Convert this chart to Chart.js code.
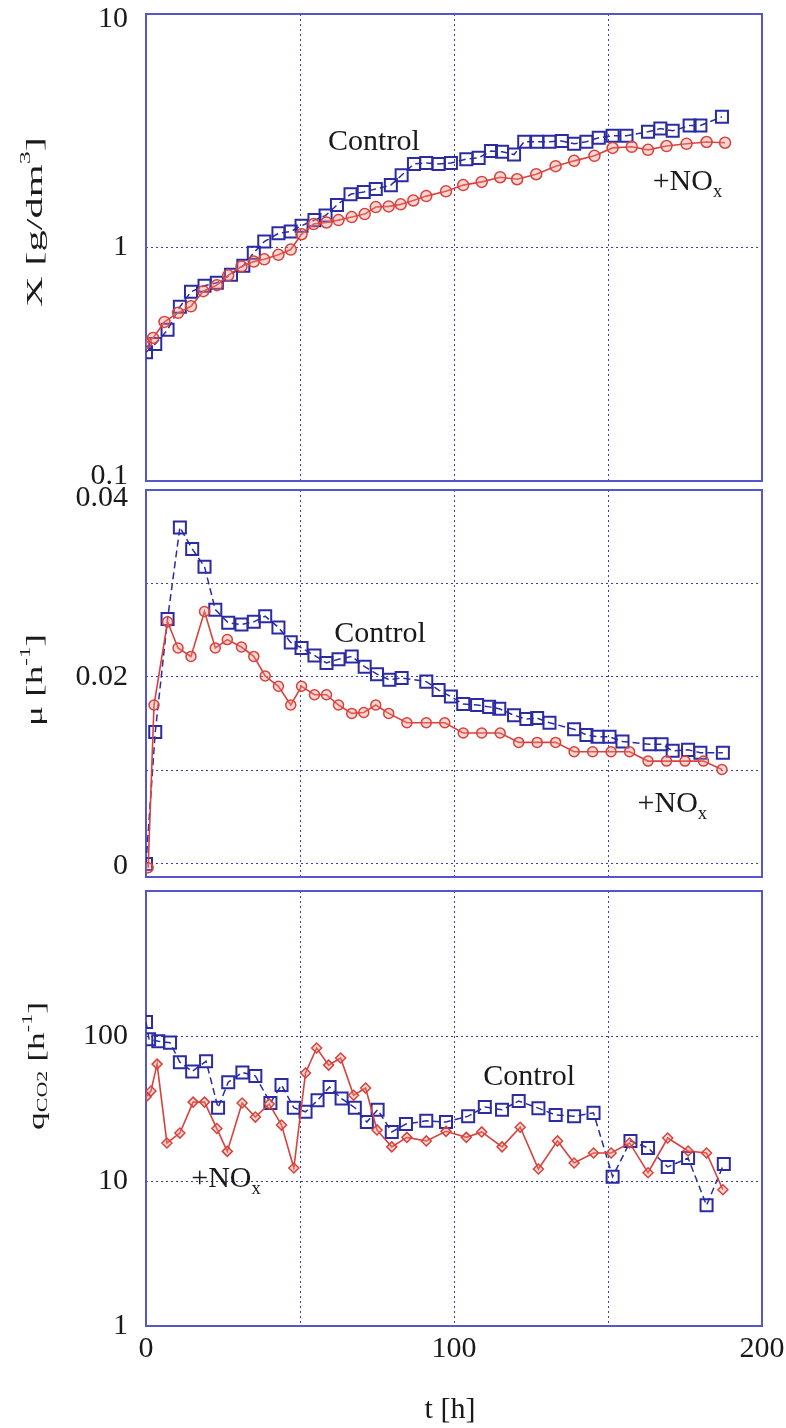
<!DOCTYPE html>
<html>
<head>
<meta charset="utf-8">
<script src="https://cdn.jsdelivr.net/npm/chart.js@4/dist/chart.umd.min.js"></script>
<style>
  body { margin: 0; background: #fff; width: 786px; height: 1428px; position: relative; overflow: hidden; }
  canvas { position: absolute; left: 0; }
</style>
</head>
<body>
<canvas id="c1" width="786" height="490" style="top:0px"></canvas>
<canvas id="c2" width="786" height="414" style="top:470px"></canvas>
<canvas id="c3" width="786" height="558" style="top:870px"></canvas>
<script>
// ---- data ----
// biomass X [g/dm3]
var tX_ctrl = [0, 3, 7, 11, 14.6, 19, 23, 27.6, 31.6, 35, 38.4, 43, 47, 50.5, 54.7, 58.3, 62, 66.4, 70.7, 74.6, 79.5, 83, 87, 91, 95, 99, 104, 108, 112, 115.6, 119.5, 122.8, 127, 131, 135, 139, 143, 147, 151.5, 156, 163, 167, 171, 176.5, 180, 187];
var X_ctrl = [0.356, 0.386, 0.444, 0.557, 0.646, 0.686, 0.706, 0.765, 0.836, 0.95, 1.06, 1.15, 1.17, 1.24, 1.31, 1.37, 1.52, 1.69, 1.73, 1.78, 1.85, 2.04, 2.28, 2.30, 2.28, 2.30, 2.39, 2.42, 2.59, 2.57, 2.50, 2.84, 2.84, 2.84, 2.86, 2.78, 2.84, 2.95, 3.01, 3.01, 3.13, 3.23, 3.16, 3.33, 3.33, 3.63];
var tX_nox = [0, 2.3, 6, 10.4, 14.6, 18.6, 23, 26.7, 31, 35, 38.4, 43, 47, 50.5, 54.4, 58.6, 62.5, 66.8, 71, 74.6, 78.8, 82.7, 86.8, 91, 97.4, 103, 109, 115, 120.5, 126.7, 133, 139, 145.6, 151.5, 157.7, 163, 169, 175.5, 182, 188];
var X_nox = [0.39, 0.41, 0.48, 0.525, 0.56, 0.65, 0.69, 0.76, 0.83, 0.87, 0.89, 0.93, 0.98, 1.14, 1.26, 1.28, 1.31, 1.35, 1.39, 1.49, 1.50, 1.53, 1.59, 1.66, 1.74, 1.85, 1.91, 2.0, 1.96, 2.06, 2.23, 2.35, 2.47, 2.67, 2.70, 2.62, 2.72, 2.78, 2.83, 2.81];

// specific growth rate mu [1/h]
var tMu_ctrl = [0, 3, 7, 11, 15, 19, 22.5, 26.7, 31, 35, 38.7, 43, 47, 50.5, 54.7, 58.6, 62.5, 66.8, 71, 75, 79, 83, 91, 95, 99, 103, 107.5, 111.4, 114.7, 119.5, 123.5, 127, 131, 139, 143, 146.6, 150.5, 154.7, 163.5, 167.4, 171, 176, 180, 187.3];
var mu_ctrl = [0, 0.0141, 0.0262, 0.036, 0.0337, 0.0318, 0.0272, 0.0258, 0.0256, 0.0259, 0.0265, 0.0253, 0.0237, 0.0231, 0.0223, 0.0215, 0.0219, 0.0222, 0.0211, 0.0203, 0.0197, 0.0199, 0.0195, 0.0186, 0.0179, 0.0171, 0.017, 0.0168, 0.0166, 0.0159, 0.0155, 0.0156, 0.0151, 0.0144, 0.0138, 0.0136, 0.0136, 0.0131, 0.0128, 0.0128, 0.0121, 0.0122, 0.0119, 0.0119];
var tMu_nox = [0.7, 2.6, 7, 10.4, 14.6, 19, 22.5, 26.4, 31, 35, 38.7, 43, 47, 50.5, 54.7, 58.6, 62.5, 66.8, 70.7, 74.6, 78.8, 84.7, 91, 97, 103, 109, 115, 121, 127, 133, 139, 145, 151, 157, 163, 169, 175, 181, 187];
var mu_nox = [-0.0004, 0.017, 0.0259, 0.0231, 0.0222, 0.027, 0.0231, 0.024, 0.0232, 0.0222, 0.0201, 0.019, 0.017, 0.019, 0.0181, 0.0181, 0.017, 0.0161, 0.0162, 0.017, 0.0161, 0.0151, 0.0151, 0.0151, 0.014, 0.014, 0.014, 0.013, 0.013, 0.013, 0.012, 0.012, 0.012, 0.012, 0.011, 0.011, 0.011, 0.011, 0.0101];

// specific CO2 rate qCO2 [1/h]
var tQ_ctrl = [0, 1, 4, 7.8, 11, 15, 19.5, 23.4, 26.7, 31.3, 35.5, 40.4, 44, 48, 51.8, 55.7, 59.6, 63.5, 67.8, 71.7, 75.2, 79.8, 84.4, 91, 97.4, 104.6, 110, 115.6, 121, 127.4, 133, 139, 145.3, 151.5, 157.3, 163, 169.4, 176, 182, 187.6];
var q_ctrl = [125, 95, 92, 90, 66, 57, 67, 32, 48, 56, 53, 34.5, 46, 32, 30, 36, 44.5, 37, 32, 25.5, 31, 21.8, 24.7, 26, 25.5, 28, 32.4, 31, 35.6, 31.8, 28.5, 28, 29.5, 10.7, 18.9, 16.9, 12.5, 14.4, 6.8, 13.1];
var tQ_nox = [0, 1.6, 3.6, 6.8, 11, 15.3, 19, 23, 26.4, 31.2, 35.5, 40, 44, 48, 51.8, 55.4, 59.3, 63.2, 67.4, 71.3, 75, 79.8, 84.7, 91, 97.4, 104, 109, 115.6, 121.5, 127.4, 133.6, 139, 145.3, 151, 157, 163, 169.4, 176, 182, 187.3];
var q_nox = [38, 41.7, 64, 18.3, 21.4, 35, 35, 23, 16, 34.5, 27.6, 34, 24.3, 12.3, 55.6, 82.6, 63, 70.5, 39, 43.8, 22.5, 17.2, 20, 18.9, 22, 20, 21.8, 17.2, 23.5, 12.1, 18.9, 13.3, 15.6, 15.6, 18.3, 11.4, 19.8, 16.1, 15.6, 8.7];

// axes
var xTicks = [0, 50, 100, 150, 200];
var xLabels = ['0', '', '100', '', '200'];
var yTicksX = [0.1, 1, 10];
var yLabelsX = ['0.1', '1', '10'];
var yTicksMu = [0, 0.01, 0.02, 0.03, 0.04];
var yLabelsMu = ['0', '', '0.02', '', '0.04'];
var yTicksQ = [1, 10, 100, 1000];
var yLabelsQ = ['1', '10', '100', ''];

var FONT = "'Liberation Serif', 'Times New Roman', serif";
var BLUE = '#2b2ba3';
var RED = '#d8423c';
var FRAME = '#5656cc';
var GRID = '#3d3db0';

function pts(xs, ys) {
  return xs.map(function (x, i) { return { x: x, y: ys[i] }; });
}

function drawParts(ctx, parts, x, y, size, rot, len, align, base) {
  ctx.save();
  ctx.translate(x, y);
  ctx.rotate(rot * Math.PI / 180);
  var fs = function (p) { return p[1] ? size * 0.62 : size; };
  var w = 0;
  parts.forEach(function (p) { ctx.font = fs(p) + 'px ' + FONT; w += ctx.measureText(p[0]).width; });
  ctx.scale(len ? len / w : 1, 1);
  var cx = align === 'left' ? 0 : -w / 2;
  ctx.textBaseline = base || 'alphabetic';
  ctx.fillStyle = '#1a1a1a';
  parts.forEach(function (p) {
    ctx.font = fs(p) + 'px ' + FONT;
    var dy = p[1] === 'sup' ? -size * 0.42 : (p[1] === 'sub' ? size * 0.24 : 0);
    ctx.fillText(p[0], cx, dy);
    cx += ctx.measureText(p[0]).width;
  });
  ctx.restore();
}

var framePlugin = {
  id: 'frame',
  beforeDatasetsDraw: function (chart) {
    var a = chart.chartArea, ctx = chart.ctx;
    ctx.save();
    ctx.strokeStyle = FRAME;
    ctx.lineWidth = 2;
    ctx.strokeRect(a.left, a.top, a.right - a.left, a.bottom - a.top);
    ctx.restore();
  },
  afterDraw: function (chart) {
    var o = chart.options.plugins.frame || {};
    var ctx = chart.ctx;
    (o.titles || []).forEach(function (it) {
      drawParts(ctx, it.parts, it.x, it.y, it.size, it.rot, it.len, 'center', 'middle');
    });
    (o.notes || []).forEach(function (n) {
      var px = chart.scales.x.getPixelForValue(n.t);
      var py = chart.scales.y.getPixelForValue(n.v);
      drawParts(ctx, n.parts, px, py, 30, 0, 0, n.align, 'alphabetic');
    });
  }
};

function makeChart(id, cfg) {
  var ctrl = {
    label: 'Control',
    data: cfg.ctrl,
    borderColor: BLUE,
    borderWidth: 1.5,
    borderDash: [7, 4],
    pointStyle: 'rect',
    pointRadius: 8.5,
    pointBorderWidth: 2,
    pointBorderColor: BLUE,
    pointBackgroundColor: 'rgba(255,255,255,0)'
  };
  var nox = {
    label: '+NOx',
    data: cfg.nox,
    borderColor: RED,
    borderWidth: 1.6,
    pointStyle: cfg.noxStyle,
    pointRadius: cfg.noxRadius,
    pointBorderWidth: 1.5,
    pointBorderColor: RED,
    pointBackgroundColor: 'rgba(240,140,130,0.35)'
  };
  // end labels sit a few px inside the frame, as in the original figure
  var shift = function (v) {
    var i = cfg.yTicks.indexOf(v);
    return (cfg.labelShift && i >= 0) ? cfg.labelShift[i] : 0;
  };
  var yScale = {
    type: cfg.yType,
    min: cfg.yMin,
    max: cfg.yMax,
    afterFit: function (s) { s.width = 146; s.paddingTop = 0; s.paddingBottom = 0; },
    afterBuildTicks: function (s) { s.ticks = cfg.yTicks.map(function (v) { return { value: v }; }); },
    grid: {
      drawTicks: false,
      lineWidth: 1,
      color: function (c) {
        var v = c.tick && c.tick.value;
        return (v === cfg.yMin || v === cfg.yMax) ? 'rgba(0,0,0,0)' : GRID;
      }
    },
    border: { display: false, dash: [2, 3] },
    ticks: {
      padding: 18,
      color: '#1a1a1a',
      font: function (c) {
        var s = c.tick ? shift(c.tick.value) : 0;
        return { family: FONT, size: 30, lineHeight: s ? (2 * Math.abs(s)) + 'px' : 1.2 };
      },
      callback: function (v) {
        var i = cfg.yTicks.indexOf(v);
        if (i < 0) return '';
        var s = shift(v), lab = cfg.yLabels[i];
        if (!s) return lab;
        return s > 0 ? ['', lab] : [lab, ''];
      }
    }
  };
  var xScale = {
    type: 'linear',
    min: 0,
    max: 200,
    afterFit: function (s) { s.height = cfg.xHeight; s.paddingLeft = 0; s.paddingRight = 0; },
    afterBuildTicks: function (s) { s.ticks = xTicks.map(function (v) { return { value: v }; }); },
    grid: {
      drawTicks: false,
      lineWidth: 1,
      color: function (c) {
        var v = c.tick && c.tick.value;
        return (v === 0 || v === 200) ? 'rgba(0,0,0,0)' : GRID;
      }
    },
    border: { display: false, dash: [2, 3] },
    ticks: {
      display: cfg.showX,
      padding: 5,
      maxRotation: 0,
      autoSkip: false,
      color: '#1a1a1a',
      font: { family: FONT, size: 30 },
      callback: function (v) {
        var i = xTicks.indexOf(v);
        return i >= 0 ? xLabels[i] : '';
      }
    }
  };
  return new Chart(document.getElementById(id), {
    type: 'line',
    data: { datasets: [nox, ctrl] },
    options: {
      responsive: false,
      animation: false,
      layout: { autoPadding: false, padding: { left: 0, right: 24, top: cfg.padTop, bottom: 0 } },
      scales: { x: xScale, y: yScale },
      elements: { line: { tension: 0 } },
      plugins: {
        legend: { display: false },
        tooltip: { enabled: false },
        frame: { titles: cfg.titles, notes: cfg.notes }
      }
    },
    plugins: [framePlugin]
  });
}

makeChart('c1', {
  ctrl: pts(tX_ctrl, X_ctrl), nox: pts(tX_nox, X_nox),
  noxStyle: 'circle', noxRadius: 5.5,
  yType: 'logarithmic', yMin: 0.1, yMax: 10, yTicks: yTicksX, yLabels: yLabelsX,
  labelShift: [-5, 0, 5],
  padTop: 14, xHeight: 9, showX: false,
  titles: [{ parts: [['X [g/dm'], ['3', 'sup'], [']']], x: 36, y: 222, size: 23, rot: -90, len: 170 }],
  notes: [
    { parts: [['Control']], t: 74, v: 2.62, align: 'center' },
    { parts: [['+NO'], ['x', 'sub']], t: 164.5, v: 1.77, align: 'left' }
  ]
});

makeChart('c2', {
  ctrl: pts(tMu_ctrl, mu_ctrl), nox: pts(tMu_nox, mu_nox),
  noxStyle: 'circle', noxRadius: 5,
  yType: 'linear', yMin: -0.0014, yMax: 0.04, yTicks: yTicksMu, yLabels: yLabelsMu,
  labelShift: [2, 0, 0, 0, 8],
  padTop: 20, xHeight: 7, showX: false,
  titles: [{ parts: [['\u03bc [h'], ['-1', 'sup'], [']']], x: 36, y: 210, size: 23, rot: -90, len: 92 }],
  notes: [
    { parts: [['Control']], t: 76, v: 0.0237, align: 'center' },
    { parts: [['+NO'], ['x', 'sub']], t: 159.6, v: 0.0056, align: 'left' }
  ]
});

makeChart('c3', {
  ctrl: pts(tQ_ctrl, q_ctrl), nox: pts(tQ_nox, q_nox),
  noxStyle: 'rectRot', noxRadius: 5,
  yType: 'logarithmic', yMin: 1, yMax: 1000, yTicks: yTicksQ, yLabels: yLabelsQ,
  padTop: 21, xHeight: 102, showX: true,
  titles: [
    { parts: [['q'], ['CO2', 'sub'], [' [h'], ['-1', 'sup'], [']']], x: 38, y: 196, size: 23, rot: -90, len: 128 },
    { parts: [['t [h]']], x: 450, y: 540, size: 30, rot: 0, len: 0 }
  ],
  notes: [
    { parts: [['Control']], t: 124.4, v: 45.9, align: 'center' },
    { parts: [['+NO'], ['x', 'sub']], t: 14.7, v: 9.1, align: 'left' }
  ]
});
</script>
</body>
</html>
